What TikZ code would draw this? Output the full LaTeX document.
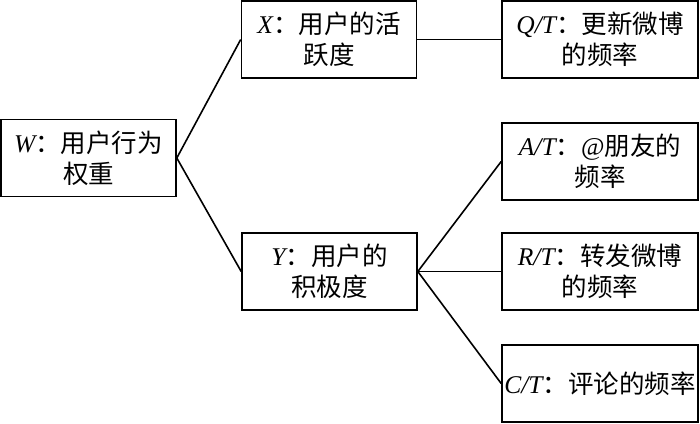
\documentclass[tikz,border=0pt]{standalone}
\usepackage{fontspec}
\setmainfont{Liberation Serif}
\newfontfamily\cjk{Noto Sans CJK SC}
\usetikzlibrary{positioning}
\newcommand{\vname}[1]{{\rmfamily\itshape #1}}

\begin{document}
\begin{tikzpicture}[x=1pt, y=-1pt, line width=1.6pt,
    box/.style={draw, rectangle, align=center, inner sep=1pt, minimum height=77pt,
        font=\fontsize{25.5}{31}\selectfont\cjk},
    mid/.style={box, minimum width=175pt},
    wide/.style={box, minimum width=196pt}]
    \useasboundingbox (0,0) rectangle (700,423);

    \node[mid] (w) at (88.5,158) {\vname{W}：用户行为\\权重};
    \node[mid] (x) at (329,39.5) {\vname{X}：用户的活\\跃度};
    \node[mid] (y) at (329.5,271.5) {\vname{Y}：用户的\\积极度};
    \node[wide] (qt) at (600,39.5) {\vname{Q/T}：更新微博\\的频率};
    \node[wide] (at) at (600,161.5) {\vname{A/T}：{\rmfamily @}朋友的\\频率};
    \node[wide] (rt) at (600,271.5) {\vname{R/T}：转发微博\\的频率};
    \node[wide] (ct) at (600,383.5) {\vname{C/T}：评论的频率};

    \draw (w.east) -- (x.west);
    \draw (w.east) -- (y.west);
    \draw (x.east) -- (qt.west);
    \draw (y.east) -- (at.west);
    \draw (y.east) -- (rt.west);
    \draw (y.east) -- (ct.west);
\end{tikzpicture}
\end{document}
